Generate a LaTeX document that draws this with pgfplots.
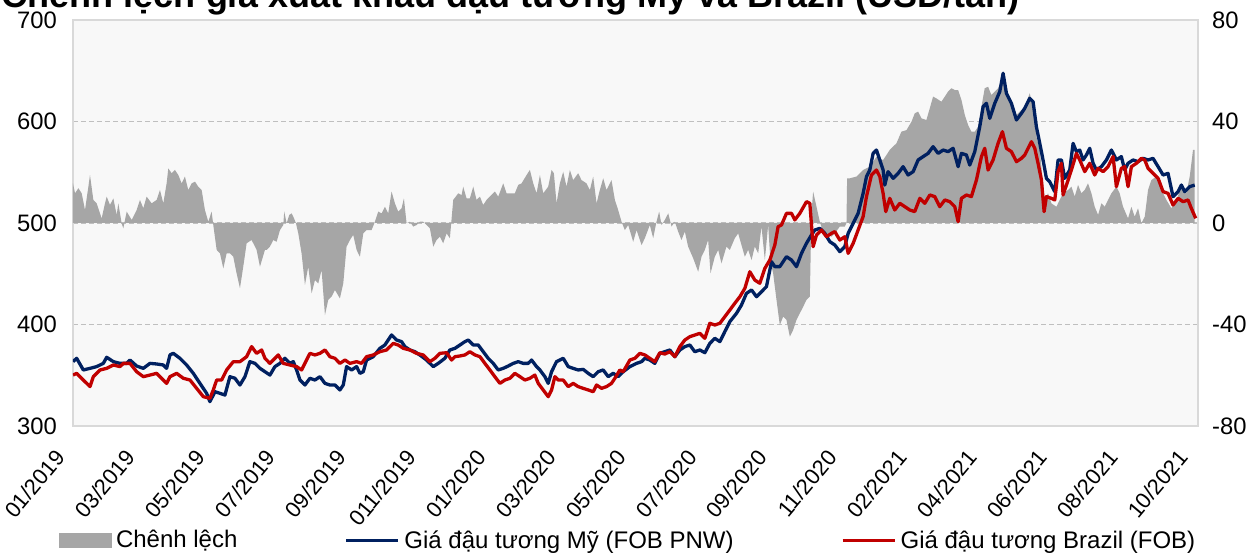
\documentclass[border=0pt]{standalone}
\usepackage{fontspec}
\setmainfont{Liberation Sans}
\usepackage{pgfplots}
\pgfplotsset{compat=1.18}
\definecolor{usblue}{HTML}{002060}
\definecolor{brred}{HTML}{C00000}
\definecolor{diffgray}{HTML}{A6A6A6}
\definecolor{bgc}{HTML}{F8F8F8}
\definecolor{gridc}{HTML}{BFBFBF}
\definecolor{framec}{HTML}{D9D9D9}
\begin{document}
\begin{tikzpicture}[x=1pt,y=1pt]
\useasboundingbox (0,0) rectangle (1253,552);
\node[anchor=base east, inner sep=0pt, font=\fontsize{36}{40}\selectfont\bfseries] at (1020,544) {Chênh lệch giá xuất khẩu đậu tương Mỹ và Brazil (USD/tấn)};
% right axis: difference (area)
\begin{axis}[
  at={(73pt,126pt)}, anchor=south west,
  width=1125pt, height=406pt, scale only axis,
  xmin=0, xmax=16.03, ymin=-80, ymax=80,
  axis background/.style={fill=bgc},
  axis line style={framec, line width=1.5pt},
  major tick length=0pt,
  ytick={-80,-40,0,40,80},
  yticklabels={-80,-40,0,40,80},
  yticklabel pos=right,
  yticklabel style={anchor=west, inner sep=0pt, xshift=14pt, font=\fontsize{23.8}{27}\selectfont},
  xtick={0,...,16},
  xticklabels={01/2019,03/2019,05/2019,07/2019,09/2019,011/2019,01/2020,03/2020,05/2020,07/2020,09/2020,11/2020,02/2021,04/2021,06/2021,08/2021,10/2021},
  xticklabel style={xshift=-19pt, yshift=-22pt, rotate=50, anchor=north east, inner sep=0pt, font=\fontsize{22}{25}\selectfont},
  ymajorgrids, grid style={gridc, line width=1.3pt, dash pattern=on 5pt off 3pt},
]
\addplot[fill=diffgray, draw=none] coordinates {
(0,15.6)(0.029,11.7)(0.076,13.7)(0.124,11.7)(0.171,5.1)(0.219,14.3)(0.242,18.9)(0.290,9.1)(0.337,7.75)(0.408,1.8)(0.456,7.75)(0.480,10.4)(0.527,7.1)(0.575,9.7)(0.622,3.2)(0.646,7.75)(0.693,-0.1)(0.717,-2.1)(0.765,4.5)(0.836,1.2)(0.907,5.1)(0.954,9.1)(1.002,5.8)(1.049,10.4)(1.121,7.75)(1.192,9.1)(1.239,13.0)(1.287,7.75)(1.334,15.6)(1.358,21.5)(1.406,19.6)(1.453,20.9)(1.501,18.9)(1.548,15.6)(1.595,18.3)(1.643,13.0)(1.690,15.6)(1.738,16.3)(1.785,14.3)(1.833,13.0)(1.880,5.1)(1.928,0.5)(1.975,4.5)(1.999,-0.8)(2.047,-10.6)(2.094,-11.95)(2.142,-17.9)(2.189,-11.95)(2.236,-11.95)(2.284,-13.3)(2.331,-19.8)(2.379,-25.7)(2.426,-17.2)(2.474,-8.0)(2.545,-6.7)(2.616,-10.6)(2.664,-17.2)(2.735,-10.6)
(2.759,-10.6)(2.806,-9.3)(2.854,-6.7)(2.901,-7.4)(2.949,-2.8)(2.996,-0.8)(3.010,4.5)(3.044,-0.1)(3.082,3.2)(3.115,3.8)(3.139,2.5)(3.177,-0.1)(3.210,-4.1)(3.257,-11.95)(3.305,-24.4)(3.352,-17.2)(3.400,-27.7)(3.447,-22.5)(3.495,-23.8)(3.542,-18.5)(3.590,-36.3)(3.637,-30.3)(3.685,-29.0)(3.732,-26.4)(3.803,-29.7)(3.851,-23.8)(3.898,-9.3)(3.946,-6.7)(3.993,-4.7)(4.041,-10.6)(4.088,-13.3)(4.136,-4.1)(4.183,-2.8)(4.254,-2.8)(4.302,0.5)(4.349,4.5)(4.397,3.8)(4.444,6.4)(4.492,3.8)(4.539,12.4)(4.587,7.75)(4.634,4.5)(4.682,5.8)(4.715,9.7)(4.753,-0.1)(4.801,0.5)(4.848,-1.4)(4.895,-0.8)(4.943,0.5)(4.990,0.5)(5.038,-0.8)(5.085,-2.1)(5.133,-9.3)(5.180,-6.7)(5.228,-5.4)(5.275,-8.0)(5.323,-4.1)(5.370,-6.0)(5.418,9.1)
(5.489,11.7)(5.537,11.0)(5.560,14.3)(5.608,9.7)(5.655,9.7)(5.703,14.3)(5.750,9.1)(5.798,10.4)(5.845,7.1)(5.893,9.1)(5.940,10.4)(6.011,12.4)(6.059,10.4)(6.130,15.6)(6.178,11.7)(6.225,11.7)(6.296,11.7)(6.344,15.0)(6.391,15.6)(6.463,18.9)(6.510,20.9)(6.558,15.6)(6.605,11.7)(6.653,18.9)(6.700,11.7)(6.771,14.3)(6.819,20.9)(6.852,19.6)(6.890,7.75)(6.937,15.6)(6.985,20.2)(7.032,14.3)(7.080,20.9)(7.127,16.9)(7.198,19.6)(7.246,16.9)(7.317,15.6)(7.365,13.0)(7.412,18.3)(7.460,7.75)(7.507,13.0)(7.555,17.6)(7.602,13.0)(7.673,16.9)(7.721,9.1)(7.768,5.1)(7.816,0.5)(7.863,-2.8)(7.911,-0.8)(7.982,-7.4)(8.030,-2.8)(8.101,-8.7)(8.148,-6.0)
(8.219,-0.8)(8.267,-6.0)(8.314,0.5)(8.352,4.5)(8.386,-0.8)(8.433,1.2)(8.481,3.8)(8.528,-1.4)(8.576,0.5)(8.623,-3.4)(8.670,-6.7)(8.718,-3.4)(8.765,-9.3)(8.837,-13.9)(8.908,-19.2)(8.955,-13.3)(9.003,-10.6)(9.050,-6.7)(9.084,-19.8)(9.145,-13.3)(9.193,-10.6)(9.240,-15.9)(9.311,-9.3)(9.359,-10.6)(9.430,-6.0)(9.478,-4.1)(9.525,-8.7)(9.573,-13.3)(9.620,-10.6)(9.668,-14.6)(9.715,-9.3)(9.763,-11.95)(9.810,-1.4)(9.858,-14.6)(9.905,-0.8)(9.938,-15.2)(9.976,-19.8)(10.024,-30.3)(10.071,-40.2)(10.119,-36.9)(10.166,-38.2)(10.214,-44.8)(10.261,-42.2)(10.309,-38.2)(10.356,-35.6)(10.404,-33.0)(10.451,-30.3)(10.499,-29.0)(10.522,3.8)(10.546,12.4)(10.594,6.4)(10.641,0.5)(10.688,-3.4)(10.736,-4.1)(10.807,-5.4)(10.855,-4.1)
(10.926,-1.4)(10.997,-1.4)(11.021,-0.1)(11.030,17.6)(11.068,17.6)(11.163,18.3)(11.258,20.9)(11.353,22.2)(11.448,26.1)(11.543,24.8)(11.638,28.8)(11.733,31.4)(11.804,36.0)(11.876,36.6)(11.947,39.9)(11.994,43.2)(12.042,43.9)(12.089,41.25)(12.160,40.6)(12.208,45.2)(12.255,49.8)(12.303,49.1)(12.374,47.8)(12.422,49.8)(12.469,51.8)(12.517,53.1)(12.564,52.4)(12.612,52.4)(12.659,48.5)(12.707,42.6)(12.754,38.6)(12.801,36.0)(12.849,36.0)(12.896,37.97)(12.944,45.8)(12.991,53.1)(13.039,53.7)(13.086,50.4)(13.134,51.8)(13.181,53.1)(13.253,57.0)(13.300,52.4)(13.371,48.5)(13.443,42.6)(13.514,44.5)(13.561,45.8)
(13.632,51.1)(13.680,45.8)(13.727,34.0)(13.775,28.8)(13.822,15.6)(13.846,9.1)(13.893,11.7)(13.941,7.75)(14.012,6.4)(14.060,9.1)(14.107,11.7)(14.178,13.0)(14.226,14.3)(14.273,10.4)(14.321,15.0)(14.368,11.7)(14.416,13.0)(14.463,15.6)(14.511,11.7)(14.558,6.4)(14.606,3.2)(14.653,7.75)(14.701,6.4)(14.748,9.1)(14.796,11.7)(14.867,14.3)(14.914,11.7)(14.962,6.4)(15.033,1.8)(15.081,6.4)(15.128,2.5)(15.176,5.8)(15.223,-0.1)(15.271,2.5)(15.318,13.0)(15.365,16.9)(15.437,18.3)(15.508,13.0)(15.579,9.1)(15.650,5.8)(15.722,9.1)(15.793,14.3)(15.864,11.7)(15.912,18.3)(15.959,28.8)(15.983,28.8)
} \closedcycle;
\end{axis}
% left axis: prices
\begin{axis}[
  at={(73pt,126pt)}, anchor=south west,
  width=1125pt, height=406pt, scale only axis,
  xmin=0, xmax=16.03, ymin=300, ymax=700,
  axis line style={draw=none},
  major tick length=0pt,
  xtick=\empty,
  ytick={300,400,500,600,700},
  yticklabels={300,400,500,600,700},
  yticklabel style={anchor=east, inner sep=0pt, xshift=-16pt},
  tick label style={font=\fontsize{23.8}{27}\selectfont},
  legend columns=3,
  legend style={at={(axis description cs:-0.0125,-0.2808)}, anchor=west, draw=none, fill=none,
    font=\fontsize{24}{27}\selectfont, inner sep=0pt,
    nodes={inner sep=4.5pt},
    /tikz/every even column/.append style={column sep=103pt}},
]
\addlegendimage{legend image code/.code={\fill[diffgray] (0pt,-7pt) rectangle (52pt,7pt);}}
\addlegendentry{Chênh lệch}
\addplot[usblue, line width=3.3pt, line join=round, legend image code/.code={\draw[usblue, line width=3pt] (0pt,0pt) -- (52pt,0pt);}] coordinates {
(0,363.4)(0.052,366.7)(0.147,355.2)(0.242,356.8)(0.337,358.5)(0.432,361.7)(0.480,367.7)(0.575,363.4)(0.670,361.7)(0.765,361.7)(0.812,365.0)(0.907,359.1)(1.002,356.8)(1.097,361.7)(1.192,361.1)(1.287,360.1)(1.334,356.8)(1.382,370.0)(1.429,371.6)(1.524,366.7)(1.619,360.1)(1.714,351.9)(1.809,342.0)(1.904,332.2)(1.951,324.0)(2.023,333.8)(2.094,332.2)(2.165,330.5)(2.236,348.6)(2.308,347.0)(2.379,340.4)(2.450,348.6)(2.521,363.4)(2.593,361.7)(2.664,356.8)(2.735,353.5)
(2.806,350.2)(2.877,358.5)(2.949,361.7)(3.020,366.7)(3.091,361.7)(3.139,363.4)(3.186,355.2)(3.234,345.3)(3.305,340.4)(3.376,347.0)(3.447,345.3)(3.519,348.6)(3.590,342.0)(3.661,340.4)(3.732,340.4)(3.803,335.5)(3.851,340.4)(3.898,358.5)(3.970,355.2)(4.041,358.5)(4.088,351.9)(4.136,353.5)(4.183,365.0)(4.278,368.3)(4.373,376.5)(4.444,379.8)(4.539,389.7)(4.611,384.7)(4.682,383.1)(4.729,378.2)(4.801,374.9)(4.872,373.2)(4.943,369.9)(5.038,365.0)(5.133,358.5)(5.204,361.7)(5.299,366.7)(5.370,374.9)(5.442,376.5)
(5.513,379.8)(5.584,383.1)(5.632,384.7)(5.703,379.8)(5.774,379.8)(5.845,373.2)(5.916,366.7)(5.988,361.7)(6.059,355.2)(6.130,356.8)(6.201,359.1)(6.273,361.7)(6.344,363.4)(6.415,361.7)(6.486,361.7)(6.534,365.0)(6.605,358.5)(6.653,355.2)(6.724,348.6)(6.771,342.0)(6.819,353.5)(6.890,363.4)(6.985,366.7)(7.056,358.5)(7.127,356.8)(7.198,355.2)(7.270,355.8)(7.341,351.9)(7.412,348.6)(7.483,353.5)(7.555,355.2)(7.626,348.6)(7.697,351.9)(7.768,348.6)(7.840,353.5)(7.935,358.5)(8.030,361.7)(8.101,363.4)(8.148,366.7)
(8.219,365.0)(8.290,361.7)(8.362,371.6)(8.433,373.2)(8.504,374.9)(8.576,368.3)(8.647,374.9)(8.718,378.2)(8.789,379.8)(8.860,373.2)(8.932,374.9)(9.003,372.2)(9.074,381.4)(9.145,386.4)(9.217,383.1)(9.288,393.0)(9.359,402.8)(9.454,411.0)(9.525,419.2)(9.596,430.7)(9.668,434.0)(9.739,427.4)(9.810,432.3)(9.881,437.3)(9.953,461.9)(10.000,457.0)(10.071,457.0)(10.166,466.8)(10.238,463.5)(10.309,457.0)(10.380,470.1)(10.451,480.0)(10.522,488.2)(10.570,493.1)(10.641,494.7)(10.712,489.8)(10.784,481.6)(10.855,478.3)
(10.926,471.8)(10.997,476.7)(11.045,489.8)(11.116,499.7)(11.187,509.5)(11.258,529.2)(11.306,545.7)(11.353,552.2)(11.401,568.6)(11.448,571.9)(11.496,562.1)(11.543,552.2)(11.567,537.4)(11.614,550.6)(11.686,544.0)(11.757,548.9)(11.828,555.5)(11.899,547.3)(11.971,550.6)(12.042,562.1)(12.113,565.4)(12.184,568.6)(12.255,575.2)(12.327,568.6)(12.398,571.9)(12.469,570.3)(12.540,573.6)(12.612,555.5)(12.659,568.6)(12.730,567.0)(12.778,557.1)(12.849,570.3)(12.920,594.9)(12.968,614.6)(13.015,617.9)(13.063,603.1)(13.134,617.9)(13.205,629.4)(13.253,647.5)(13.300,627.8)(13.371,617.9)(13.443,601.5)(13.514,608.1)(13.561,613.0)
(13.632,622.8)(13.680,619.5)(13.727,594.9)(13.775,578.5)(13.822,562.1)(13.870,544.0)(13.917,540.7)(13.989,530.9)(14.036,562.1)(14.084,562.1)(14.131,544.0)(14.202,552.2)(14.250,578.5)(14.297,570.3)(14.345,571.9)(14.392,562.1)(14.440,567.0)(14.487,573.6)(14.535,558.8)(14.582,552.2)(14.653,555.5)(14.725,562.1)(14.796,571.9)(14.867,562.1)(14.938,565.4)(14.986,552.2)(15.033,558.8)(15.104,562.1)(15.176,560.4)(15.247,563.7)(15.318,562.1)(15.389,563.7)(15.461,555.5)(15.532,547.3)(15.603,548.9)(15.674,525.9)(15.746,530.9)(15.793,537.4)(15.840,530.9)(15.912,535.8)(15.983,537.4)
};
\addlegendentry{Giá đậu tương Mỹ (FOB PNW)}
\addplot[brred, line width=3.3pt, line join=round, legend image code/.code={\draw[brred, line width=3pt] (0pt,0pt) -- (52pt,0pt);}] coordinates {
(0,350.2)(0.052,351.9)(0.147,345.3)(0.219,340.4)(0.242,338.8)(0.290,348.6)(0.385,355.2)(0.480,356.8)(0.575,360.1)(0.670,358.5)(0.717,361.7)(0.812,361.7)(0.907,353.5)(1.002,348.6)(1.097,350.2)(1.192,351.9)(1.287,345.3)(1.334,342.0)(1.382,348.6)(1.477,351.9)(1.572,347.0)(1.667,345.3)(1.762,337.1)(1.857,328.9)(1.951,327.3)(1.999,335.5)(2.047,345.3)(2.118,345.3)(2.189,355.2)(2.284,363.4)(2.379,363.4)(2.474,368.3)(2.545,378.2)(2.616,371.6)(2.688,374.9)(2.735,366.7)
(2.806,361.7)(2.877,366.7)(2.925,370.0)(2.996,361.7)(3.091,360.1)(3.186,358.5)(3.257,355.2)(3.328,365.0)(3.376,371.6)(3.447,370.0)(3.519,371.6)(3.590,374.9)(3.661,368.3)(3.732,366.7)(3.803,361.7)(3.875,365.0)(3.946,361.7)(4.041,363.4)(4.112,361.7)(4.183,368.3)(4.278,370.0)(4.373,373.2)(4.468,374.9)(4.563,381.4)(4.634,379.8)(4.706,376.5)(4.801,374.9)(4.895,371.6)(4.990,370.0)(5.085,363.4)(5.157,366.7)(5.228,371.6)(5.323,372.2)(5.394,365.0)(5.442,368.3)
(5.513,369.0)(5.584,370.0)(5.655,373.2)(5.727,370.0)(5.798,368.3)(5.869,361.7)(5.940,355.2)(6.011,348.6)(6.083,342.0)(6.154,345.3)(6.225,347.0)(6.296,351.9)(6.368,348.6)(6.439,345.3)(6.510,347.0)(6.581,350.2)(6.629,342.0)(6.700,335.5)(6.771,328.9)(6.819,335.5)(6.866,348.6)(6.914,345.3)(6.985,345.3)(7.056,338.8)(7.127,342.0)(7.198,338.8)(7.270,337.1)(7.341,335.5)(7.412,333.8)(7.460,340.4)(7.531,337.1)(7.602,338.8)(7.673,342.0)(7.721,347.0)(7.792,355.2)(7.840,353.5)(7.935,365.0)(8.006,366.7)(8.077,371.6)(8.148,370.0)
(8.219,366.7)(8.290,363.4)(8.362,372.2)(8.433,370.9)(8.504,373.2)(8.576,368.3)(8.647,378.2)(8.718,384.7)(8.789,388.0)(8.860,389.6)(8.932,391.3)(9.003,386.4)(9.074,401.2)(9.145,399.5)(9.217,401.2)(9.288,407.7)(9.359,414.3)(9.430,420.9)(9.502,427.4)(9.573,435.6)(9.644,452.0)(9.715,443.8)(9.786,440.6)(9.858,455.3)(9.929,463.5)(10.000,478.3)(10.047,496.4)(10.095,498.0)(10.166,509.5)(10.238,509.5)(10.285,503.0)(10.356,509.5)(10.451,521.0)(10.499,519.4)(10.546,476.7)(10.594,488.2)(10.665,493.1)(10.736,486.5)(10.807,489.8)(10.855,491.5)
(10.926,483.2)(10.997,486.5)(11.045,470.1)(11.116,479.9)(11.187,493.1)(11.258,506.3)(11.306,526.0)(11.377,547.3)(11.448,552.2)(11.496,545.7)(11.543,529.2)(11.581,511.2)(11.638,524.3)(11.709,512.8)(11.781,519.4)(11.852,516.1)(11.923,512.8)(11.994,511.2)(12.066,524.3)(12.137,519.4)(12.208,527.6)(12.279,526.0)(12.350,516.1)(12.422,522.7)(12.493,521.0)(12.564,516.1)(12.612,501.3)(12.659,524.3)(12.730,527.6)(12.801,526.0)(12.873,542.4)(12.944,565.4)(12.991,573.6)(13.039,552.2)(13.110,562.1)(13.181,578.5)(13.243,590.0)(13.300,573.6)(13.371,570.3)(13.443,560.4)(13.514,563.7)(13.561,567.0)
(13.656,580.1)(13.704,573.6)(13.751,558.8)(13.799,542.4)(13.837,511.2)(13.870,526.0)(13.941,524.3)(13.989,522.7)(14.036,550.6)(14.084,558.8)(14.107,527.6)(14.155,537.4)(14.226,552.2)(14.297,568.6)(14.345,562.1)(14.416,550.6)(14.487,558.8)(14.558,547.3)(14.606,553.9)(14.677,550.6)(14.748,555.5)(14.820,565.4)(14.867,535.8)(14.938,553.9)(14.986,555.5)(15.033,535.8)(15.081,555.5)(15.152,558.8)(15.223,563.7)(15.271,562.1)(15.318,553.9)(15.389,548.9)(15.461,544.0)(15.532,530.9)(15.603,529.2)(15.674,517.7)(15.746,524.3)(15.817,521.0)(15.888,522.7)(15.935,514.4)(15.997,504.6)
};
\addlegendentry{Giá đậu tương Brazil (FOB)}
\end{axis}
\end{tikzpicture}
\end{document}
